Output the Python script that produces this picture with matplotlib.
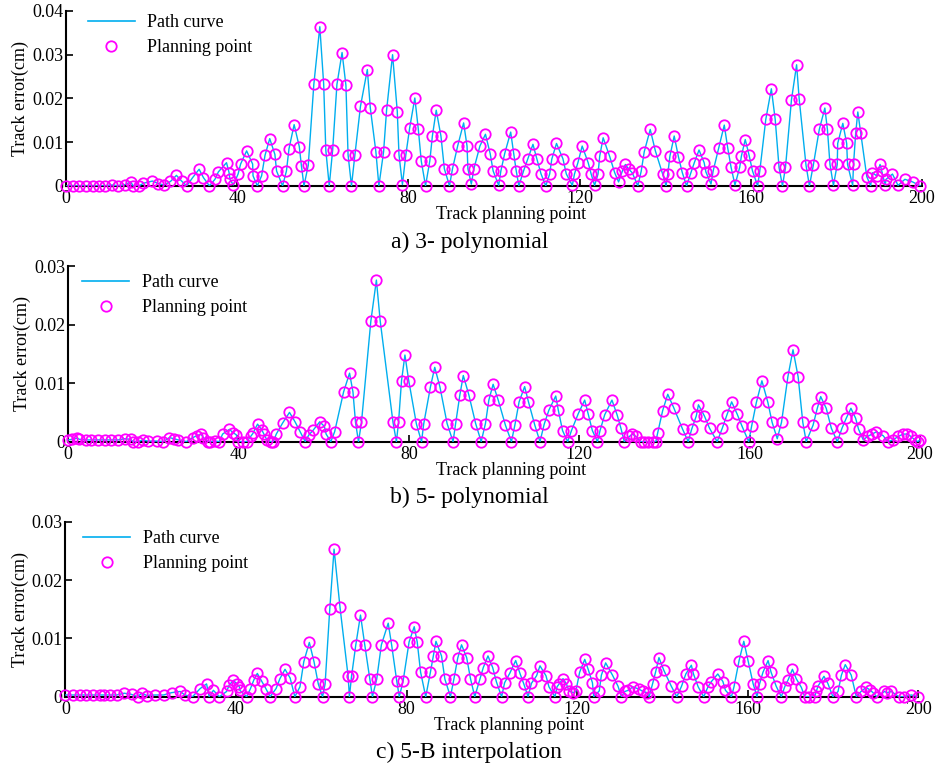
import numpy as np
import matplotlib
matplotlib.use("Agg")
import matplotlib.pyplot as plt
from matplotlib.lines import Line2D

plt.rcParams['font.family'] = ['Liberation Serif', 'DejaVu Serif']
plt.rcParams['font.size'] = 13

# a) 3- polynomial
xa = [0, 1.6, 3.1, 4.7, 6.2, 7.8, 9.1, 10.7, 12.2, 13.8, 15.1, 15.7, 17.1, 18.1, 20.2, 21.6, 22.9,
      24.4, 25.8, 27.0, 28.2, 29.6, 31.1, 32.1, 33.5, 34.8, 35.6, 37.5, 38.1, 38.3, 39.1, 40.2, 40.8,
      42.2, 43.6, 43.7, 44.7, 45.7, 46.5, 47.6, 48.8, 49.2, 50.6, 51.5, 52.1, 53.3, 54.5, 55.0, 55.6,
      56.6, 57.9, 59.3, 60.2, 60.7, 61.5, 62.3, 63.3, 64.5, 65.4, 65.9, 66.7, 67.5, 68.8, 70.4, 71.1,
      72.4, 73.1, 74.2, 74.9, 76.3, 77.4, 77.8, 78.6, 79.4, 80.3, 81.5, 82.3, 83.0, 84.0, 85.0, 85.6,
      86.5, 87.6, 88.4, 89.6, 90.3, 91.5, 92.9, 93.7, 93.9, 94.7, 95.3, 96.7, 98.0, 99.1, 99.8, 101.1,
      101.6, 102.5, 103.9, 104.6, 105.2, 105.8, 106.9, 107.9, 109.1, 110.0, 111.0, 112.1, 113.0, 113.5,
      114.6, 116.1, 116.9, 118.3, 118.8, 119.6, 120.6, 122.0, 122.7, 123.5, 124.3, 124.7, 125.5, 127.0,
      128.2, 129.1, 130.0, 130.7, 131.5, 132.3, 133.6, 134.4, 135.1, 136.5, 137.7, 139.4, 140.2, 140.6,
      141.1, 142.1, 143.1, 144.0, 145.0, 146.0, 146.8, 147.9, 149.1, 149.5, 150.7, 151.2, 152.5, 153.8,
      154.6, 155.4, 156.3, 157.4, 157.8, 158.7, 159.6, 160.4, 161.6, 162.1, 163.5, 164.8, 165.7, 166.6,
      167.4, 168.1, 169.5, 170.7, 171.3, 172.9, 173.7, 174.6, 176.0, 177.3, 177.9, 178.5, 179.3, 180.2,
      180.3, 181.5, 182.4, 182.6, 183.8, 184.0, 184.5, 185.0, 185.7, 187.1, 188.0, 188.4, 189.4, 190.2,
      190.6, 191.4, 191.6, 193.1, 194.4, 196.0, 197.8, 199.6]
ya = [0, 0, 0, 0, 0, 0, 0, 0.0002, 0, 0.0003, 0.0009, 0, 0, 0.0006, 0.0011, 0.0005, 0.0002,
      0.001, 0.0024, 0.0011, 0, 0.0019, 0.0038, 0.0019, 0, 0.0015, 0.0032, 0.0053, 0.003, 0.0015, 0.0002, 0.0027, 0.005,
      0.008, 0.005, 0.0023, 0, 0.0023, 0.007, 0.0108, 0.0072, 0.0034, 0, 0.0034, 0.0085, 0.014, 0.009, 0.0046, 0,
      0.0047, 0.0232, 0.0364, 0.0233, 0.0082, 0, 0.0082, 0.0232, 0.0305, 0.023, 0.0071, 0, 0.0071, 0.0182, 0.0266, 0.0178,
      0.0078, 0, 0.0078, 0.0173, 0.030, 0.017, 0.0071, 0.0003, 0.0071, 0.0133, 0.0201, 0.0131, 0.0057, 0, 0.0057, 0.0114,
      0.0173, 0.0114, 0.0039, 0, 0.0039, 0.0091, 0.0144, 0.0091, 0.0039, 0.0004, 0.0039, 0.0091, 0.0118, 0.0074, 0.0034, 0.0001,
      0.0034, 0.0074, 0.0123, 0.0074, 0.0034, 0, 0.0034, 0.0062, 0.0095, 0.0062, 0.0027, 0, 0.0027, 0.0061,
      0.0097, 0.0062, 0.0027, 0.0001, 0.0027, 0.0053, 0.0091, 0.0053, 0.0027, 0.0001, 0.0027, 0.0068, 0.011, 0.0068,
      0.003, 0.0009, 0.0034, 0.0049, 0.0038, 0.003, 0, 0.0034, 0.0078, 0.0129, 0.008, 0.0027, 0, 0.0027,
      0.0068, 0.0114, 0.0066, 0.003, 0, 0.003, 0.0053, 0.0082, 0.0053, 0.0032, 0.0004, 0.0034, 0.0086, 0.0139,
      0.0087, 0.0042, 0.0002, 0.0042, 0.0068, 0.0106, 0.007, 0.0034, 0, 0.0034, 0.0152, 0.0222, 0.0152, 0.0042,
      0, 0.0042, 0.0197, 0.0277, 0.0199, 0.0047, 0, 0.0047, 0.0129, 0.0178, 0.0129, 0.0049, 0.0001, 0.0049,
      0.0097, 0.0143, 0.0097, 0.0049, 0.0001, 0.0049, 0.012, 0.0169, 0.012, 0.0021, 0, 0.003, 0.0023, 0.0049,
      0.0034, 0.0001, 0.0015, 0.0027, 0.0001, 0.0015, 0.0009, 0]

# b) 5- polynomial
xb = [0, 1.0, 2.1, 2.7, 4.2, 5.5, 7.1, 8.6, 10.2, 11.8, 13.3, 14.7, 15.3, 16.5, 17.5, 18.8, 20.8,
      22.4, 23.8, 24.9, 25.9, 27.8, 29.3, 30.2, 31.2, 31.8, 32.9, 33.3, 34.5, 35.5, 36.3, 37.9, 38.8,
      39.5, 39.8, 41.0, 42.0, 42.9, 43.4, 44.5, 45.5, 46.0, 46.7, 47.6, 48.2, 48.9, 50.4, 52.0, 53.3,
      54.5, 55.7, 56.5, 57.6, 59.1, 60.2, 60.6, 61.7, 62.6, 64.7, 66.1, 66.9, 67.5, 68.2, 68.9, 71.1,
      72.4, 73.3, 76.3, 77.1, 77.6, 78.3, 79.1, 80.0, 81.8, 83.0, 83.5, 85.1, 86.1, 87.3, 89.0, 90.4,
      91.0, 92.0, 92.8, 94.1, 95.7, 97.0, 98.0, 98.8, 99.8, 101.0, 102.7, 104.1, 104.9, 105.9, 107.2,
      108.1, 109.6, 110.8, 111.8, 112.9, 114.5, 115.1, 116.1, 117.3, 118.2, 119.8, 121.3, 122.1, 123.1,
      124.3, 124.9, 126.0, 127.7, 128.9, 129.8, 130.6, 131.8, 132.5, 133.3, 134.5, 135.3, 136.1, 137.3,
      138.0, 138.4, 139.6, 140.8, 142.2, 144.3, 145.6, 146.4, 147.5, 148.0, 149.4, 150.6, 152.4, 153.6,
      154.7, 155.8, 157.1, 158.2, 159.8, 160.5, 161.6, 162.9, 164.3, 165.3, 166.5, 167.5, 169.0, 170.2,
      171.4, 172.5, 173.3, 174.9, 175.9, 176.7, 178.0, 179.2, 180.6, 181.7, 182.7, 183.8, 184.9, 185.6,
      186.7, 187.7, 188.8, 189.8, 191.4, 192.4, 193.7, 194.9, 196.1, 196.9, 197.9, 198.8, 199.5, 200]
yb = [0.0003, 0.0004, 0.0006, 0.0004, 0.0003, 0.0003, 0.0003, 0.0003, 0.0003, 0.0003, 0.0005, 0.0004, 0, 0, 0.0003, 0.0001, 0.0001,
      0, 0.0007, 0.0005, 0.0003, 0, 0.0007, 0.001, 0.0013, 0.0007, 0, 0, 0.0001, 0, 0.0013, 0.0021, 0.0015,
      0.0012, 0, 0, 0, 0.0009, 0.0014, 0.003, 0.002, 0.0013, 0.0003, 0, 0, 0.0013, 0.0032, 0.005, 0.0034,
      0.0017, 0, 0.0011, 0.002, 0.0034, 0.0026, 0.0013, 0, 0.0017, 0.0085, 0.0117, 0.0085, 0.0033, 0, 0.0033, 0.0206,
      0.0276, 0.0206, 0.0033, 0, 0.0033, 0.0104, 0.0148, 0.0104, 0.003, 0, 0.003, 0.0094, 0.0127, 0.0094, 0.0031, 0,
      0.0031, 0.008, 0.0113, 0.008, 0.0031, 0, 0.0031, 0.0071, 0.0098, 0.0071, 0.0028, 0, 0.0028, 0.0068, 0.0094,
      0.0068, 0.0028, 0, 0.003, 0.0054, 0.0078, 0.0054, 0.0019, 0, 0.0019, 0.0048, 0.0071, 0.0048, 0.0019,
      0, 0.0019, 0.0046, 0.0071, 0.0046, 0.0023, 0, 0.0009, 0.0013, 0.0009, 0, 0, 0, 0,
      0, 0.0014, 0.0053, 0.0081, 0.0058, 0.0021, 0, 0.0021, 0.0044, 0.0063, 0.0044, 0.0023, 0, 0.0023,
      0.0046, 0.0068, 0.0047, 0.0027, 0, 0.0027, 0.0067, 0.0104, 0.0067, 0.0033, 0.0005, 0.0033, 0.0111, 0.0157,
      0.0111, 0.0033, 0, 0.0028, 0.0057, 0.0077, 0.0057, 0.0023, 0, 0.0023, 0.004, 0.0057, 0.004, 0.0021,
      0.0003, 0.0009, 0.0013, 0.0017, 0.001, 0, 0.0003, 0.0009, 0.0013, 0.0013, 0.0009, 0.0003, 0, 0.0003]

# c) 5-B interpolation
xc = [0, 1.7, 3.3, 4.8, 6.4, 8.0, 9.1, 10.5, 12.0, 13.8, 15.5, 16.9, 17.9, 19.1, 21.0, 23.0, 24.9,
      26.9, 28.0, 29.8, 31.6, 33.1, 33.7, 34.7, 36.1, 37.8, 38.4, 39.4, 40.2, 40.8, 40.9, 42.5, 43.4,
      44.2, 45.0, 46.0, 47.0, 48.0, 49.4, 50.3, 51.5, 52.7, 53.8, 55.0, 55.9, 57.2, 58.3, 59.3, 60.3,
      60.9, 62.0, 63.0, 64.4, 66.3, 66.6, 67.1, 68.1, 69.2, 70.2, 71.4, 72.0, 73.0, 74.1, 75.7, 76.5,
      77.7, 78.3, 79.2, 80.6, 81.8, 82.5, 83.3, 84.5, 85.6, 86.3, 86.9, 88.2, 89.0, 90.3, 91.1, 92.0,
      92.9, 94.1, 95.0, 96.0, 97.2, 98.0, 99.1, 100.2, 101.1, 102.3, 103.0, 104.2, 105.6, 106.6, 107.5,
      108.5, 109.3, 110.5, 111.3, 112.7, 113.4, 114.8, 115.3, 115.8, 116.7, 117.5, 118.1, 119.1, 119.7,
      120.6, 121.8, 122.6, 123.6, 123.9, 125.2, 125.7, 126.7, 128.3, 129.6, 130.4, 131.2, 132.0, 133.1,
      134.5, 135.5, 136.4, 136.9, 137.7, 138.4, 139.2, 140.3, 142.1, 143.4, 144.5, 145.5, 146.8, 147.3,
      148.4, 149.7, 150.7, 151.5, 153.0, 154.2, 154.8, 156.2, 156.8, 158.0, 159.1, 160.1, 161.3, 162.2,
      162.8, 163.6, 164.8, 165.5, 166.7, 167.9, 168.7, 169.5, 170.5, 171.4, 172.6, 173.4, 174.5, 175.7,
      176.1, 176.5, 177.9, 178.8, 180.0, 181.2, 182.0, 182.9, 184.3, 185.5, 186.6, 187.8, 188.8, 189.4,
      190.3, 192.1, 192.7, 193.7, 195.5, 196.6, 198.4, 200]
yc = [0.0003, 0.0003, 0.0003, 0.0003, 0.0003, 0.0003, 0.0003, 0.0003, 0.0003, 0.0006, 0.0004, 0, 0.0006, 0.0002, 0.0003, 0.0003, 0.0007,
      0.0009, 0.0003, 0, 0.0014, 0.0022, 0, 0.0011, 0, 0.0009, 0.002, 0.0028, 0.0022, 0.0017, 0.0011, 0, 0.0014,
      0.0029, 0.004, 0.0027, 0.0014, 0, 0.0014, 0.0031, 0.0047, 0.0032, 0, 0.0017, 0.006, 0.0093, 0.006, 0.0022, 0,
      0.0022, 0.0151, 0.0253, 0.0153, 0.0035, 0, 0.0035, 0.0089, 0.014, 0.0089, 0.003, 0, 0.003, 0.0089, 0.0126, 0.0089,
      0.0027, 0, 0.0027, 0.0094, 0.012, 0.0094, 0.0042, 0, 0.0042, 0.007, 0.0095, 0.007, 0.003, 0, 0.003, 0.0066,
      0.0089, 0.0067, 0.0031, 0, 0.003, 0.005, 0.007, 0.005, 0.0025, 0, 0.0024, 0.004, 0.0062, 0.004, 0.0022,
      0, 0.0023, 0.0036, 0.0053, 0.0036, 0.0017, 0, 0.0017, 0.0022, 0.0031, 0.0022, 0.001, 0.0007, 0.0009,
      0.0042, 0.0064, 0.0047, 0.0024, 0, 0.001, 0.0037, 0.0058, 0.0037, 0.0018, 0, 0.0009, 0.0011, 0.0017,
      0.0013, 0.0009, 0.0007, 0, 0.0022, 0.0042, 0.0067, 0.0046, 0.0018, 0, 0.0018, 0.0039, 0.0054, 0.0039,
      0.0017, 0, 0.0017, 0.0026, 0.0039, 0.0026, 0.0011, 0, 0.0017, 0.0062, 0.0095, 0.0062, 0.0022, 0,
      0.0022, 0.0042, 0.0062, 0.0042, 0.0018, 0, 0.0017, 0.0029, 0.0047, 0.0031, 0.0016, 0, 0, 0,
      0.0009, 0.0018, 0.0035, 0.0023, 0, 0.0009, 0.0037, 0.0055, 0.0037, 0, 0.0009, 0.0016, 0.0011, 0.0007,
      0, 0.0009, 0.0007, 0.0009, 0, 0, 0.0003, 0]

panels = [
    (xa, ya, 0.04, [0, 0.01, 0.02, 0.03, 0.04], ['0', '0.01', '0.02', '0.03', '0.04'],
     'a) 3- polynomial', [0.0706, 0.758, 0.9155, 0.2277], (0.094, 0.982), 242),
    (xb, yb, 0.03, [0, 0.01, 0.02, 0.03], ['0', '0.01', '0.02', '0.03'],
     'b) 5- polynomial', [0.0727, 0.4249, 0.9112, 0.2287], (0.088, 0.643), 497),
    (xc, yc, 0.03, [0, 0.01, 0.02, 0.03], ['0', '0.01', '0.02', '0.03'],
     'c) 5-B interpolation', [0.0700, 0.0928, 0.9120, 0.2279], (0.089, 0.310), 752),
]

line_c = '#00AEEF'
mark_c = '#FF00FF'

fig = plt.figure(figsize=(9.35, 7.68), dpi=100)
for x, y, ymax, yt, ytl, title, pos, legpos, ty in panels:
    ax = fig.add_axes(pos)
    ax.plot(x, y, color=line_c, lw=1.0, zorder=2)
    ax.plot(x, y, 'o', mfc='none', mec=mark_c, ms=7.5, mew=1.3, clip_on=False, zorder=3)
    ax.set_xlim(0, 200)
    ax.set_ylim(0, ymax)
    ax.set_xticks([0, 40, 80, 120, 160, 200])
    ax.set_yticks(yt)
    ax.set_yticklabels(ytl)
    ax.spines['top'].set_visible(False)
    ax.spines['right'].set_visible(False)
    for s in ['left', 'bottom']:
        ax.spines[s].set_linewidth(1.5)
        ax.spines[s].set_zorder(1)
    ax.tick_params(direction='in', length=5, width=1.2, labelsize=13)
    ax.tick_params(axis='x', pad=3)
    ax.tick_params(axis='y', pad=2)
    ax.set_ylabel('Track error(cm)', fontsize=13, labelpad=2)
    ax.set_xlabel('Track planning point', fontsize=13, labelpad=0)
    ax.xaxis.set_label_coords(0.52, -0.115)
    handles = [Line2D([], [], color=line_c, lw=1.2),
               Line2D([], [], ls='none', marker='o', mfc='none', mec=mark_c, ms=7.5, mew=1.3)]
    fig.legend(handles, ['Path curve', 'Planning point'], loc='upper left',
               bbox_to_anchor=legpos, bbox_transform=fig.transFigure, frameon=False,
               fontsize=13, handlelength=2.6, handletextpad=0.7, labelspacing=0.45,
               borderpad=0, borderaxespad=0)
    fig.text(0.502, 1 - ty / 768, title, ha='center', va='center', fontsize=17)

fig.savefig('out.png', dpi=100)
